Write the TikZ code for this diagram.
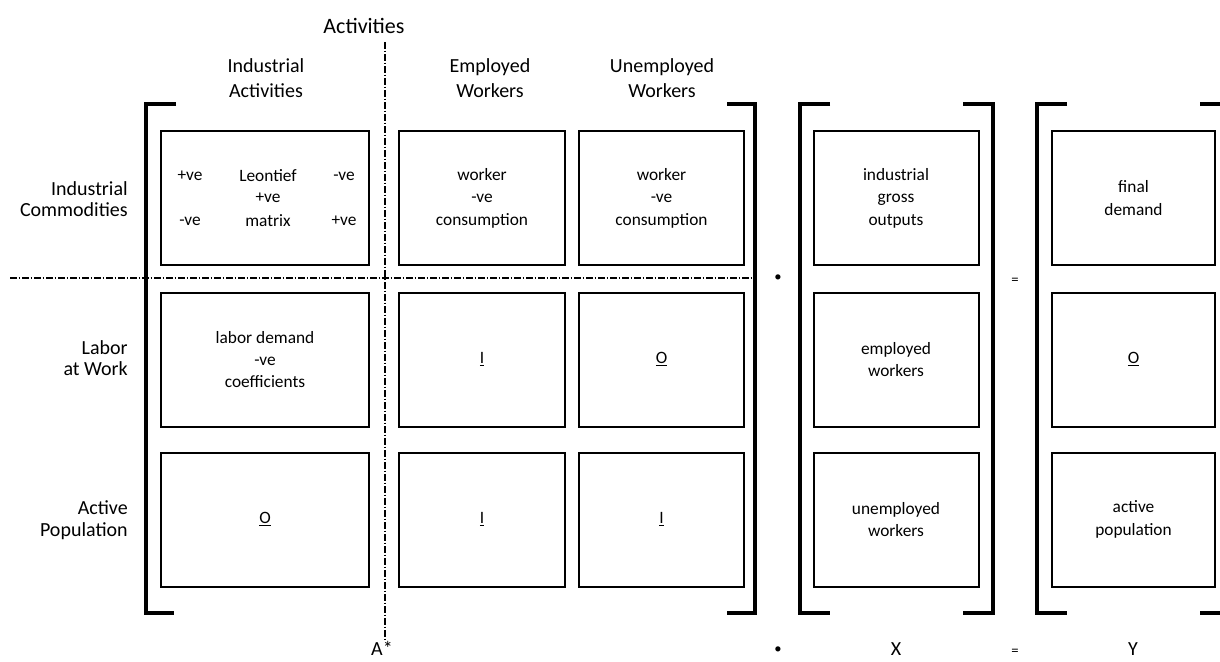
\documentclass[tikz,border=0pt]{standalone}
\usepackage{fontspec}
\setmainfont{Carlito}
\begin{document}
\begin{tikzpicture}[x=0.75pt,y=-0.75pt,
  box/.style={draw,line width=1.5pt,inner sep=0pt,align=center,minimum height=100.5pt,font=\fontsize{13}{16.8}\selectfont},
  lbl/.style={inner sep=0pt,align=center,font=\fontsize{15}{19}\selectfont},
  rowlbl/.style={inner sep=0pt,align=right,anchor=east,font=\fontsize{15}{16.2}\selectfont},
  txt/.style={inner sep=0pt,font=\fontsize{13}{16}\selectfont},
  op/.style={inner sep=0pt,font=\fontsize{11}{13}\selectfont},
  brk/.style={line width=3pt},
  sep/.style={line width=1.1pt,dash pattern=on 5pt off 1.5pt on 1pt off 1.5pt}]
\useasboundingbox (0,0) rectangle (1220,661);
% separators
\coordinate (vt) at (385,42);
\coordinate (vb) at (385,640);
\coordinate (hl) at (10,278);
\coordinate (hr) at (755,278);
\draw[sep] (vt) -- (vb);
\draw[sep] (hl) -- (hr);
% titles
\node[inner sep=0pt,font=\fontsize{16.5}{19}\selectfont] (act) at (364,26) {Activities};
\node[lbl] (h1) at (266,78) {Industrial\\Activities};
\node[lbl] (h2) at (490,78) {Employed\\Workers};
\node[lbl] (h3) at (662,78) {Unemployed\\Workers};
\node[rowlbl] (r1) at (128,199) {Industrial\\Commodities};
\node[rowlbl] (r2) at (128,358) {Labor\\at Work};
\node[rowlbl] (r3) at (128,520) {Active\\Population};
% A* boxes
\node[box,minimum width=156pt] (a11) at (265,198) {};
\node[txt] (a11a) at (190,176) {+ve};
\node[txt] (a11b) at (268,176) {Leontief};
\node[txt] (a11c) at (344,176) {-ve};
\node[txt] (a11d) at (268,198) {+ve};
\node[txt] (a11e) at (190,221) {-ve};
\node[txt] (a11f) at (268,221) {matrix};
\node[txt] (a11g) at (344,221) {+ve};
\node[box,minimum width=124.5pt] (a12) at (482,198) {worker\\-ve\\consumption};
\node[box,minimum width=124pt] (a13) at (661.5,198) {worker\\-ve\\consumption};
\node[box,minimum width=156pt] (a21) at (265,359.5) {labor demand\\-ve\\coefficients};
\node[box,minimum width=124.5pt] (a22) at (482,359.5) {\underline{I}};
\node[box,minimum width=124pt] (a23) at (661.5,359.5) {\underline{O}};
\node[box,minimum width=156pt] (a31) at (265,519.5) {\underline{O}};
\node[box,minimum width=124.5pt] (a32) at (482,519.5) {\underline{I}};
\node[box,minimum width=124pt] (a33) at (661.5,519.5) {\underline{I}};
% X boxes
\node[box,minimum width=123.75pt] (x1) at (896,198) {industrial\\gross\\outputs};
\node[box,minimum width=123.75pt] (x2) at (896,359.5) {employed\\workers};
\node[box,minimum width=123.75pt] (x3) at (896,519.5) {unemployed\\workers};
% Y boxes
\node[box,minimum width=122pt] (y1) at (1133.5,198) {final\\demand};
\node[box,minimum width=122pt] (y2) at (1133.5,359.5) {\underline{O}};
\node[box,minimum width=122pt] (y3) at (1133.5,519.5) {active\\population};
% brackets
\draw[brk] (176,104) -- (146,104) -- (146,613) -- (174,613);
\draw[brk] (727,104) -- (755,104) -- (755,613) -- (727,613);
\draw[brk] (830,104) -- (800,104) -- (800,613) -- (830,613);
\draw[brk] (963,104) -- (993,104) -- (993,613) -- (963,613);
\draw[brk] (1067,104) -- (1037,104) -- (1037,613) -- (1067,613);
\draw[brk] (1200,104) -- (1220,104);
\draw[brk] (1200,613) -- (1220,613);
% operators
\node[op] (dot1) at (778,278) {•};
\node[op] (eq1) at (1015,281) {=};
\node[lbl,anchor=base] (astar) at (382,655) {A*};
\node[op] (dot2) at (778,650) {•};
\node[lbl,anchor=base] (xl) at (896,655) {X};
\node[op] (eq2) at (1015,652) {=};
\node[lbl,anchor=base] (yl) at (1133,655) {Y};
\end{tikzpicture}
\end{document}
